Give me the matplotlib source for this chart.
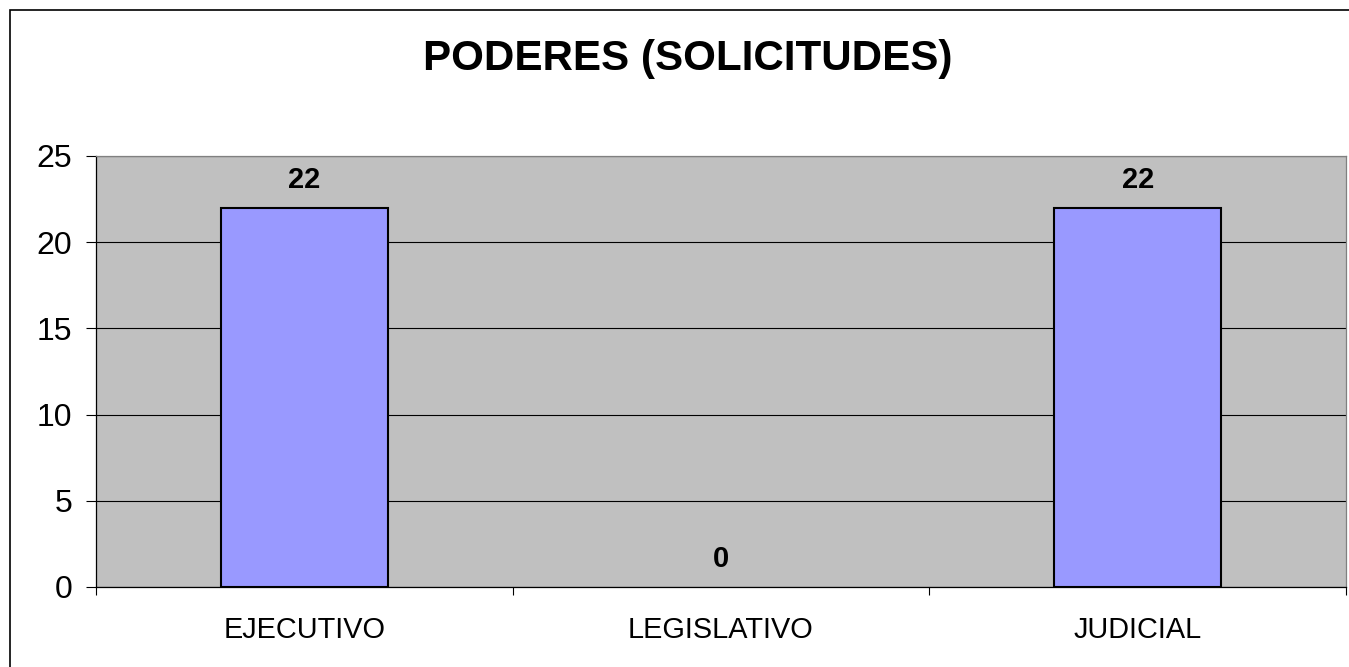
import matplotlib.pyplot as plt
from matplotlib.patches import Rectangle
import numpy as np

plt.rcParams['font.family'] = ['Liberation Sans', 'DejaVu Sans']

categories = ["EJECUTIVO", "LEGISLATIVO", "JUDICIAL"]
solicitudes = [22, 0, 22]
y_ticks = [0, 5, 10, 15, 20, 25]

W, H = 1349, 667
fig = plt.figure(figsize=(W / 100, H / 100), dpi=100)
fig.patch.set_facecolor("white")

# outer chart border (right and bottom edges fall outside the picture)
fig.add_artist(Rectangle((10 / W, -0.05), 1.1, 1 - 10 / H + 0.05,
                         transform=fig.transFigure, fill=False,
                         edgecolor="black", linewidth=1.2))

ax = fig.add_axes([96 / W, 1 - 587 / H, (1346 - 96) / W, (587 - 156) / H])
ax.set_facecolor("#C0C0C0")

x = np.arange(len(categories))
bars = ax.bar(x, solicitudes, width=0.4, color="#9999FF", edgecolor="black",
              linewidth=1.5, zorder=3)
for b, v in zip(bars, solicitudes):
    if v == 0:
        b.set_linewidth(0)

for xi, v in zip(x, solicitudes):
    ax.annotate(str(v), (xi, v), xytext=(0, 20), textcoords="offset points",
                ha="center", va="center", fontsize=21, fontweight="bold")

ax.set_xlim(-0.5, len(categories) - 0.5)
ax.set_ylim(0, 25)
ax.set_yticks(y_ticks)
ax.yaxis.grid(True, color="black", linewidth=0.8, zorder=1)
ax.set_axisbelow(True)

ax.set_xticks(x)
ax.set_xticklabels(categories, fontsize=20.8)
ax.set_xticks(np.arange(len(categories) + 1) - 0.5, minor=True)
ax.tick_params(axis="x", which="major", length=0, pad=21)
ax.tick_params(axis="x", which="minor", length=6, width=0.8, direction="out")
ax.tick_params(axis="y", length=7, width=0.8, direction="out", pad=10, labelsize=23)

for side in ["left", "bottom"]:
    ax.spines[side].set_color("black")
    ax.spines[side].set_linewidth(0.9)
for side in ["top", "right"]:
    ax.spines[side].set_color("#808080")
    ax.spines[side].set_linewidth(0.9)

fig.text(688 / W, 1 - 59 / H, "PODERES (SOLICITUDES)",
         ha="center", va="center", fontsize=30.3, fontweight="bold")

fig.savefig("out.png", dpi=100)
